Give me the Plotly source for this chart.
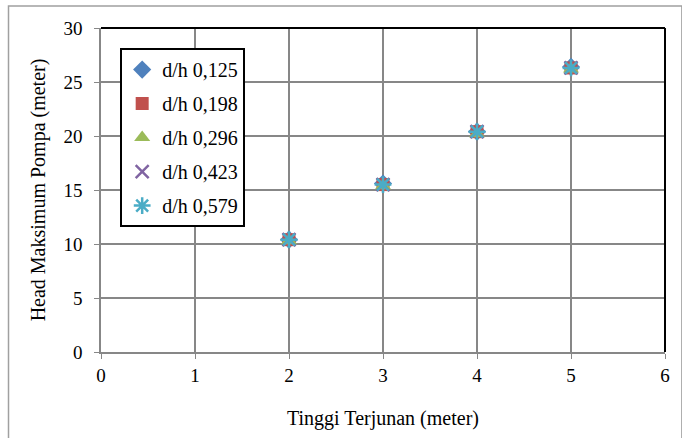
import plotly.graph_objects as go

x_vals = [2, 3, 4, 5]
series_names = ["d/h 0,125", "d/h 0,198", "d/h 0,296", "d/h 0,423", "d/h 0,579"]
y_0125 = [10.4, 15.6, 20.4, 26.4]
y_0198 = [10.4, 15.5, 20.4, 26.3]
y_0296 = [10.3, 15.4, 20.2, 26.2]
y_0423 = [10.4, 15.5, 20.4, 26.3]
y_0579 = [10.4, 15.5, 20.4, 26.3]
x_ticks = [0, 1, 2, 3, 4, 5, 6]
y_ticks = [0, 5, 10, 15, 20, 25, 30]

colors = ["#4F81BD", "#C0504D", "#9BBB59", "#8064A2", "#4BACC6"]
symbols = ["diamond", "square", "triangle-up", "x-thin-open", "asterisk-open"]
sizes = [14, 13, 14, 13, 14]
ys = [y_0125, y_0198, y_0296, y_0423, y_0579]

fig = go.Figure()
for i, (name, y) in enumerate(zip(series_names, ys)):
    marker = dict(color=colors[i], symbol=symbols[i], size=sizes[i])
    if "open" in symbols[i]:
        marker["line"] = dict(color=colors[i], width=2.5)
    else:
        marker["line"] = dict(width=0)
    fig.add_trace(go.Scatter(x=x_vals, y=y, mode="markers", name=name,
                             marker=marker, legendgroup=name))

font = "Liberation Serif"
fig.update_layout(
    width=682, height=438,
    margin=dict(l=101, r=14, t=28, b=85),
    paper_bgcolor="white", plot_bgcolor="white",
    font=dict(family=font, size=19, color="black"),
    showlegend=True,
    legend=dict(x=0.034, y=0.938, xanchor="left", yanchor="top",
                bordercolor="black", borderwidth=2, bgcolor="white",
                font=dict(family=font, size=20), tracegroupgap=5,
                itemwidth=30),
    xaxis=dict(range=[0, 6], tickvals=x_ticks, showgrid=True, gridcolor="#878787",
               gridwidth=1.5, zeroline=False, showline=True, linecolor="#878787",
               linewidth=1.5, ticks="outside", tickcolor="#878787", ticklen=5,
               title=dict(text="Tinggi Terjunan (meter)", font=dict(family=font, size=20), standoff=26),
               tickfont=dict(family=font, size=19)),
    yaxis=dict(range=[0, 30], tickvals=y_ticks, showgrid=True, gridcolor="#878787",
               gridwidth=1.5, zeroline=False, showline=True, linecolor="#878787",
               linewidth=1.5, ticks="outside", tickcolor="#878787", ticklen=5,
               ticklabelstandoff=8,
               title=dict(text="Head Maksimum Pompa (meter)", font=dict(family=font, size=20), standoff=12),
               tickfont=dict(family=font, size=19)),
    shapes=[
        dict(type="line", xref="paper", yref="paper", x0=0, x1=1, y0=1, y1=1,
             line=dict(color="black", width=2)),
        dict(type="line", xref="paper", yref="paper", x0=1, x1=1, y0=0, y1=1,
             line=dict(color="black", width=2)),
        dict(type="rect", xref="paper", yref="paper", x0=-0.164, x1=1.03, y0=-0.3, y1=1.068,
             line=dict(color="#A0A0A0", width=1.5), layer="below"),
    ],
)

fig.write_html("out.html")
